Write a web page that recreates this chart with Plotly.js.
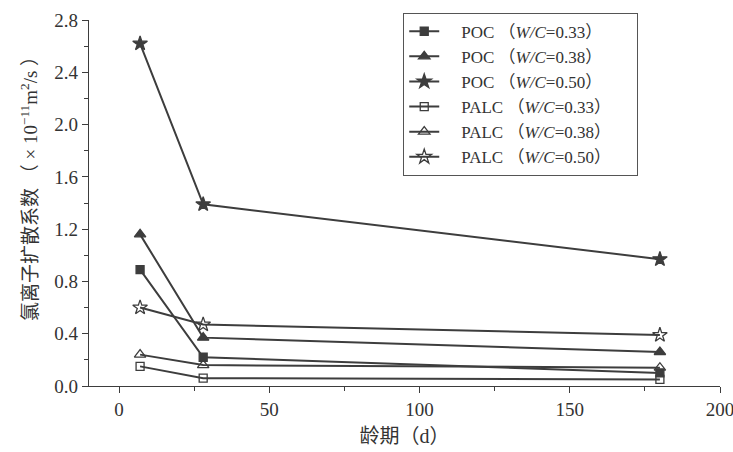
<!DOCTYPE html>
<html>
<head>
<meta charset="utf-8">
<script src="https://cdn.plot.ly/plotly-3.0.1.min.js"></script>
<style>html,body{margin:0;padding:0;background:#fff;}#chart{width:733px;height:452px;}</style>
</head>
<body>
<div id="chart"></div>
<script>
var ages = [7, 28, 180];
var pocW033 = [0.89, 0.22, 0.10];
var pocW038 = [1.16, 0.37, 0.26];
var pocW050 = [2.62, 1.39, 0.97];
var palcW033 = [0.15, 0.06, 0.05];
var palcW038 = [0.24, 0.16, 0.14];
var palcW050 = [0.60, 0.47, 0.39];
var seriesNames = [
  'POC （<i>W/C</i>=0.33）',
  'POC （<i>W/C</i>=0.38）',
  'POC （<i>W/C</i>=0.50）',
  'PALC （<i>W/C</i>=0.33）',
  'PALC （<i>W/C</i>=0.38）',
  'PALC （<i>W/C</i>=0.50）'
];
var seriesValues = [pocW033, pocW038, pocW050, palcW033, palcW038, palcW050];
var symbols = ['square', 'triangle-up', 'star', 'square-open', 'triangle-up-open', 'star-open'];
var sizes = [8, 10, 11, 8, 10, 11];
var col = '#3d3d3d';
var serif = '"Liberation Serif", "Times New Roman", "Noto Sans CJK SC", serif';
var lead = '&nbsp;&nbsp;&nbsp;&nbsp;';
var pad = '&nbsp;&nbsp;&nbsp;&nbsp;&nbsp;';

var traces = seriesValues.map(function (v, i) {
  return {
    x: ages, y: v, name: lead + seriesNames[i] + pad, type: 'scatter', mode: 'lines+markers',
    line: {color: col, width: 2},
    marker: {symbol: symbols[i], size: sizes[i], color: col,
             line: {color: col, width: 1.3}}
  };
});

var layout = {
  width: 733, height: 452,
  margin: {l: 89, r: 13, t: 20, b: 66},
  paper_bgcolor: '#ffffff', plot_bgcolor: '#ffffff',
  font: {family: serif, size: 18, color: '#333'},
  showlegend: true,
  legend: {x: 0.498, y: 1.02, xanchor: 'left', yanchor: 'top',
           bgcolor: '#ffffff', bordercolor: '#555', borderwidth: 1,
           font: {family: serif, size: 17, color: '#333'}, tracegroupgap: 0},
  xaxis: {
    range: [-10, 200], tickvals: [0, 50, 100, 150, 200], showgrid: false, zeroline: false,
    showline: true, linecolor: col, linewidth: 1.2, ticks: 'outside', ticklen: 6, tickcolor: col,
    minor: {tickvals: [25, 75, 125, 175], ticks: 'outside', ticklen: 4, tickcolor: col},
    tickfont: {family: serif, size: 19, color: '#333'}, ticklabeloverflow: 'allow',
    title: {text: '龄期（d）', font: {family: serif, size: 20, color: '#333'}, standoff: 10}
  },
  yaxis: {
    range: [0, 2.8], tickvals: [0, 0.4, 0.8, 1.2, 1.6, 2.0, 2.4, 2.8],
    ticktext: ['0.0', '0.4', '0.8', '1.2', '1.6', '2.0', '2.4', '2.8'],
    showgrid: false, zeroline: false,
    showline: true, linecolor: col, linewidth: 1.2, ticks: 'outside', ticklen: 6, tickcolor: col,
    minor: {tickvals: [0.2, 0.6, 1.0, 1.4, 1.8, 2.2, 2.6], ticks: 'outside', ticklen: 4, tickcolor: col},
    tickfont: {family: serif, size: 19, color: '#333'},
    title: {text: '&nbsp;&nbsp;&nbsp;&nbsp;&nbsp;&nbsp;&nbsp;&nbsp;氯离子扩散系数&nbsp;（&nbsp;×&nbsp;10<sup>−11</sup>m<sup>2</sup>/s&nbsp;）', font: {family: serif, size: 19, color: '#333'}, standoff: 11}
  }
};
Plotly.newPlot('chart', traces, layout, {staticPlot: true});
</script>
</body>
</html>
